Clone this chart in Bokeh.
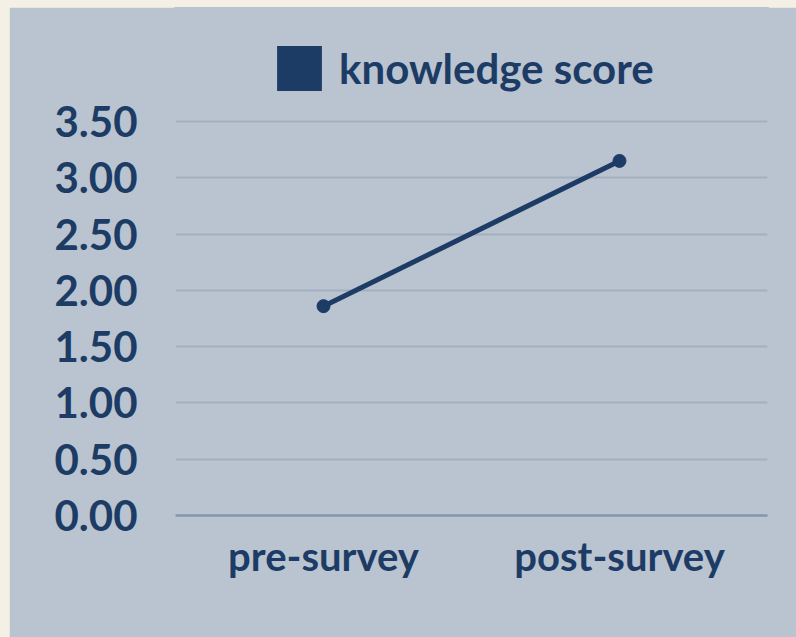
from bokeh.plotting import figure
from bokeh.models import FixedTicker, PrintfTickFormatter, Legend, LegendItem, ColumnDataSource
from bokeh.embed import file_html
from bokeh.resources import INLINE

categories = ["pre-survey", "post-survey"]
knowledge_score = [1.86, 3.15]
y_ticks = [0.0, 0.5, 1.0, 1.5, 2.0, 2.5, 3.0, 3.5]
series_name = "knowledge score"

NAVY = "#1d3c65"
PANEL = "#bac4d0"
FONT = "Lato"

src = ColumnDataSource(data=dict(x=categories, y=knowledge_score))

p = figure(width=787, height=630, x_range=categories, y_range=(0, 4.513),
           output_backend="svg", toolbar_location=None,
           min_border_left=166, min_border_right=29, min_border_bottom=122, min_border_top=0)
p.background_fill_color = PANEL
p.border_fill_color = PANEL
p.outline_line_color = PANEL
p.outline_line_width = 3

line = p.line("x", "y", source=src, line_color=NAVY, line_width=5)
pts = p.scatter("x", "y", source=src, size=13, fill_color=NAVY, line_color=NAVY)
sq = p.vbar(x="x", top="y", width=0, source=src, fill_color=NAVY, line_alpha=0)

legend = Legend(items=[LegendItem(label=series_name, renderers=[sq])],
                location=(96, 419), orientation="horizontal",
                background_fill_alpha=0, border_line_color=None,
                glyph_width=56, glyph_height=56, label_standoff=12,
                label_text_font=FONT, label_text_font_style="bold",
                label_text_font_size="42px", label_text_color=NAVY,
                padding=6, margin=0, label_height=56)
p.add_layout(legend)

# y axis
p.yaxis.ticker = FixedTicker(ticks=y_ticks)
p.yaxis.formatter = PrintfTickFormatter(format="%.2f")
p.yaxis.axis_line_color = None
p.yaxis.major_tick_line_color = None
p.yaxis.minor_tick_line_color = None
p.yaxis.major_label_standoff = 32
p.yaxis.major_label_text_font = FONT
p.yaxis.major_label_text_font_style = "bold"
p.yaxis.major_label_text_font_size = "42px"
p.yaxis.major_label_text_color = NAVY

# x axis
p.xaxis.axis_line_color = "#8496ac"
p.xaxis.axis_line_width = 2.5
p.xaxis.major_tick_line_color = None
p.xaxis.minor_tick_line_color = None
p.xaxis.major_label_standoff = 10
p.xaxis.major_label_text_font = FONT
p.xaxis.major_label_text_font_style = "bold"
p.xaxis.major_label_text_font_size = "40px"
p.xaxis.major_label_text_color = NAVY

p.xgrid.grid_line_color = None
p.ygrid.grid_line_color = "#a3afbf"
p.ygrid.grid_line_width = 2
p.ygrid.ticker = FixedTicker(ticks=y_ticks[1:])

template = """{% block preamble %}<style>html, body {background:#f5f0e5;} body {padding: 7px 0 0 9px !important; box-sizing: border-box;}</style>{% endblock %}"""
open("out.html", "w").write(file_html(p, INLINE, template=template))
